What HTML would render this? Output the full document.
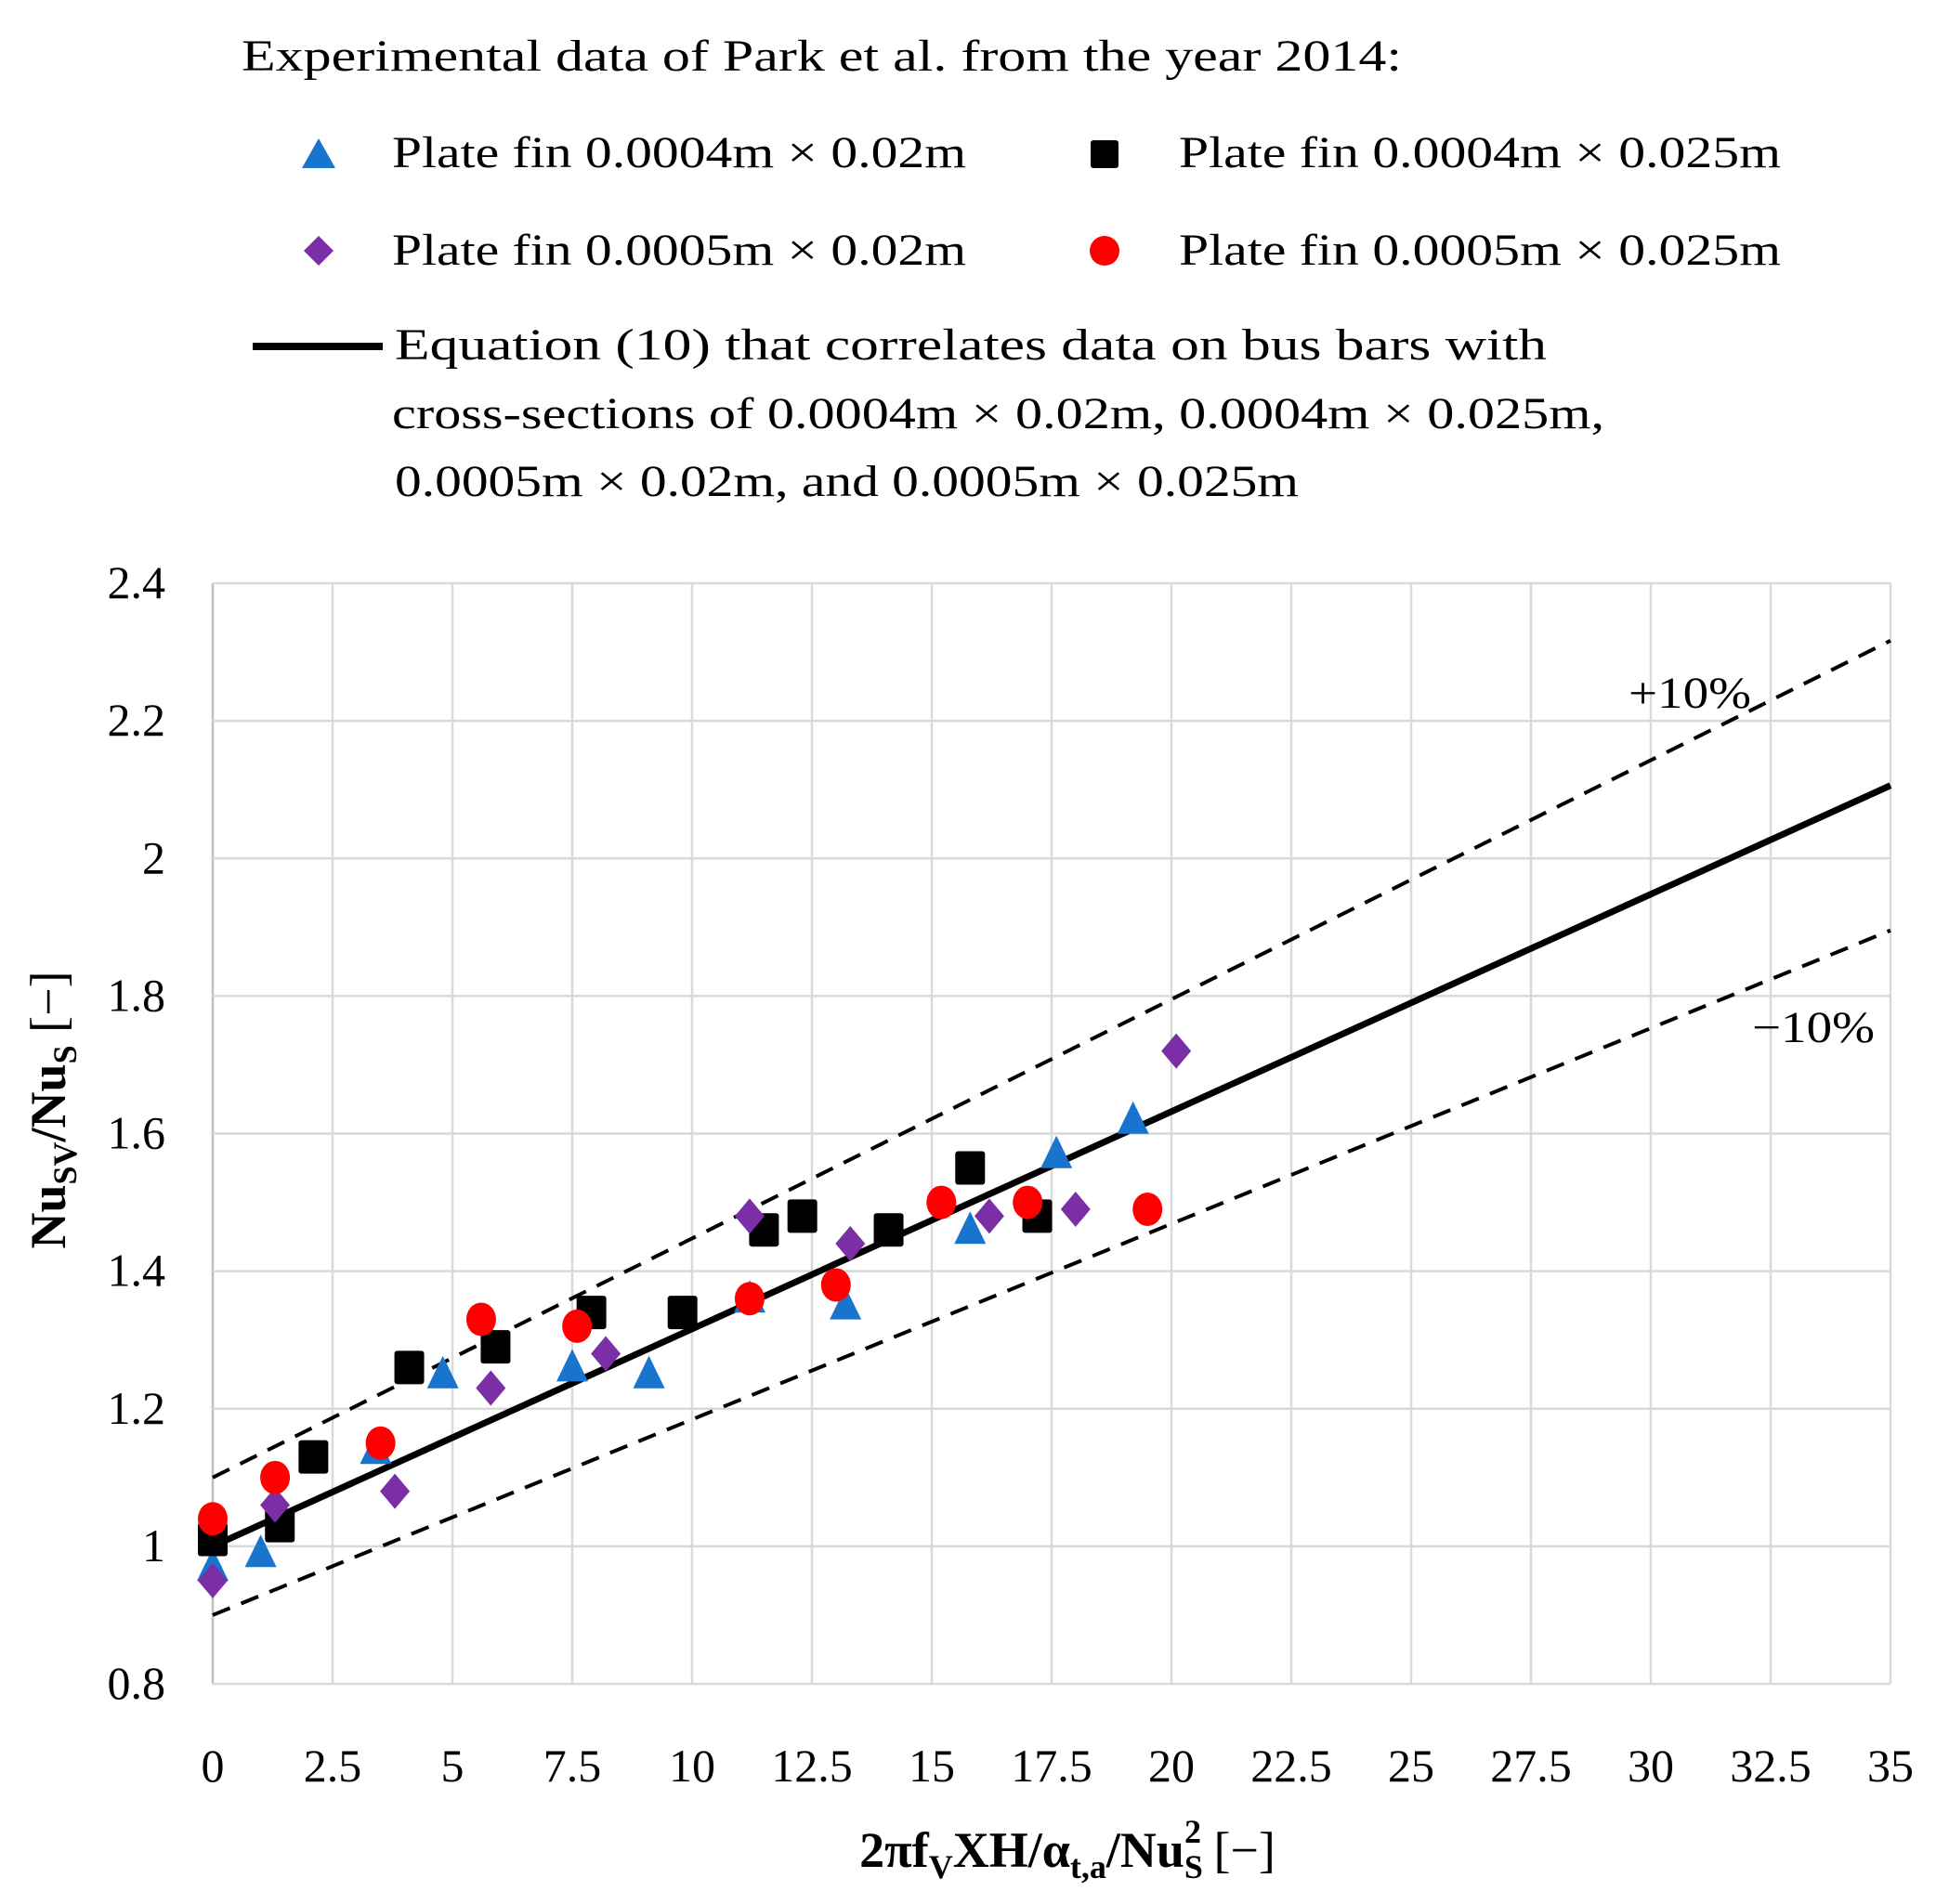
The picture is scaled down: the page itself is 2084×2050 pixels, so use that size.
<!DOCTYPE html>
<html><head><meta charset="utf-8"><style>
html,body{margin:0;padding:0;background:#fff}
svg{display:block;font-family:"Liberation Serif",serif}
</style></head><body>
<svg id="chart" width="2084" height="2050" viewBox="0 0 2084 2050" xmlns="http://www.w3.org/2000/svg">
<g font-size="48" fill="#000">
 <text x="260" y="76" textLength="1249" lengthAdjust="spacingAndGlyphs">Experimental data of Park et al. from the year 2014:</text>
 <polygon points="343,149 361,181 325,181" fill="#1874cd"/>
 <text x="422" y="180" textLength="618" lengthAdjust="spacingAndGlyphs">Plate fin 0.0004m × 0.02m</text>
 <rect x="1174" y="151" width="30" height="30" rx="3" fill="#000"/>
 <text x="1269" y="180" textLength="648" lengthAdjust="spacingAndGlyphs">Plate fin 0.0004m × 0.025m</text>
 <polygon points="343,254 359,270 343,286 327,270" fill="#7b2fa6"/>
 <text x="422" y="285" textLength="618" lengthAdjust="spacingAndGlyphs">Plate fin 0.0005m × 0.02m</text>
 <circle cx="1189" cy="270" r="16" fill="#ff0000"/>
 <text x="1269" y="285" textLength="648" lengthAdjust="spacingAndGlyphs">Plate fin 0.0005m × 0.025m</text>
 <line x1="272" y1="373" x2="412" y2="373" stroke="#000" stroke-width="8"/>
 <text x="425" y="387" textLength="1240" lengthAdjust="spacingAndGlyphs">Equation (10) that correlates data on bus bars with</text>
 <text x="422" y="461" textLength="1305" lengthAdjust="spacingAndGlyphs">cross-sections of 0.0004m × 0.02m, 0.0004m × 0.025m,</text>
 <text x="425" y="534" textLength="973" lengthAdjust="spacingAndGlyphs">0.0005m × 0.02m, and 0.0005m × 0.025m</text>
</g>
<g id="grid"></g>
<g id="axes"></g>
<g id="lines"></g>
<g id="marks"></g>
<text x="1753" y="762" font-size="48" textLength="132" lengthAdjust="spacingAndGlyphs">+10%</text>
<text x="1886" y="1122" font-size="48" textLength="132" lengthAdjust="spacingAndGlyphs">−10%</text>
<text x="1149" y="2010" font-size="54" text-anchor="middle" font-weight="bold">2πf<tspan font-size="36" dy="12">V</tspan><tspan dy="-12">XH/α</tspan><tspan font-size="36" dy="12">t,a</tspan><tspan dy="-12">/Nu</tspan><tspan font-size="36" dy="12">S</tspan><tspan font-size="36" dx="-20" dy="-38">2</tspan><tspan dy="26" font-weight="normal"> [−]</tspan></text>
<text transform="translate(70,1195) rotate(-90)" font-size="54" text-anchor="middle" font-weight="bold">Nu<tspan font-size="36" dy="12">SV</tspan><tspan dy="-12">/Nu</tspan><tspan font-size="36" dy="12">S</tspan><tspan dy="-12" font-weight="normal"> [−]</tspan></text>
</svg>
<script>
const xTicks=[0,2.5,5,7.5,10,12.5,15,17.5,20,22.5,25,27.5,30,32.5,35];
const yTicks=[0.8,1,1.2,1.4,1.6,1.8,2,2.2,2.4];
const triX=[0,1,3.4,4.8,7.5,9.1,11.2,13.2,15.8,17.6,19.2];
const triY=[0.97,0.99,1.14,1.25,1.26,1.25,1.36,1.35,1.46,1.57,1.62];
const sqX=[0,1.4,2.1,4.1,5.9,7.9,9.8,11.5,12.3,14.1,15.8,17.2];
const sqY=[1.01,1.03,1.13,1.26,1.29,1.34,1.34,1.46,1.48,1.46,1.55,1.48];
const diaX=[0,1.3,3.8,5.8,8.2,11.2,13.3,16.2,18,20.1];
const diaY=[0.95,1.06,1.08,1.23,1.28,1.48,1.44,1.48,1.49,1.72];
const cirX=[0,1.3,3.5,5.6,7.6,11.2,13,15.2,17,19.5];
const cirY=[1.04,1.1,1.15,1.33,1.32,1.36,1.38,1.5,1.5,1.49];
const eqIntercept=1.0, eqSlope=0.0316, band=0.1;
const NS='http://www.w3.org/2000/svg';
const X0=229,X1=2035,Y0=1813,Y1=628;
const sx=v=>X0+(v-0)/(35-0)*(X1-X0);
const sy=v=>Y0-(v-0.8)/(2.4-0.8)*(Y0-Y1);
function mk(tag,attrs,parent){const e=document.createElementNS(NS,tag);for(const k in attrs)e.setAttribute(k,attrs[k]);document.getElementById(parent).appendChild(e);return e;}
xTicks.forEach((t,i)=>{
 const g=mk('line',{x1:sx(t),x2:sx(t),y1:Y1,y2:Y0,stroke:i===0?'#bfbfbf':'#d9d9d9','stroke-width':2.5},'grid');
 
 
 const l=mk('text',{x:sx(t),y:1918,'font-size':50,'text-anchor':'middle'},'axes');l.textContent=t;
 
 
});
yTicks.forEach(t=>{
 const g=mk('line',{x1:X0,x2:X1,y1:sy(t),y2:sy(t),stroke:'#d9d9d9','stroke-width':2.5},'grid');
 
 
 const l=mk('text',{x:178,y:sy(t)+16,'font-size':50,'text-anchor':'end'},'axes');l.textContent=t;
 
 
});
function fitLine(f,name,dash,w){
 const e=mk('line',{x1:sx(0),y1:sy(f*eqIntercept),x2:sx(35),y2:sy(f*(eqIntercept+eqSlope*35)),stroke:'#000','stroke-width':w},'lines');
 if(dash)e.setAttribute('stroke-dasharray',dash);
 
 
}
fitLine(1+band,'upper-10-percent-line','20 13',4);
fitLine(1-band,'lower-10-percent-line','20 13',4);
fitLine(1,'equation-10-line',null,7);
triX.forEach((x,i)=>{const cx=sx(x),cy=sy(triY[i]);
 const e=mk('polygon',{points:`${cx},${cy-20} ${cx+17},${cy+15} ${cx-17},${cy+15}`,fill:'#1874cd'},'marks');
 
 });
sqX.forEach((x,i)=>{const cx=sx(x),cy=sy(sqY[i]);
 const e=mk('rect',{x:cx-16,y:cy-18,width:32,height:36,rx:3,fill:'#000'},'marks');
 
 });
diaX.forEach((x,i)=>{const cx=sx(x),cy=sy(diaY[i]);
 const e=mk('polygon',{points:`${cx},${cy-19} ${cx+16},${cy} ${cx},${cy+19} ${cx-16},${cy}`,fill:'#7b2fa6'},'marks');
 
 });
cirX.forEach((x,i)=>{const cx=sx(x),cy=sy(cirY[i]);
 const e=mk('ellipse',{cx:cx,cy:cy,rx:16,ry:18,fill:'#ff0000'},'marks');
 
 });
</script>
</body></html>
